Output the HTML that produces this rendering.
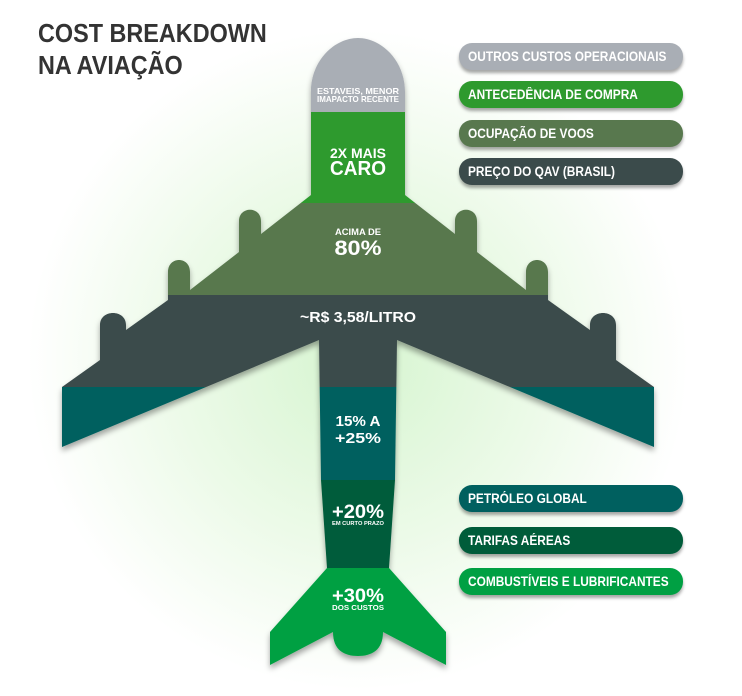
<!DOCTYPE html>
<html><head><meta charset="utf-8"><style>
html,body{margin:0;padding:0}
body{width:742px;height:696px;position:relative;overflow:hidden;background:#fff;font-family:"Liberation Sans",sans-serif}
.t{position:absolute;left:38px;font-weight:bold;color:#333;font-size:26px;white-space:nowrap;transform:scaleX(0.9);transform-origin:left top}
.pill{position:absolute;left:459px;width:224px;height:27px;border-radius:13px;color:#fff;font-weight:bold;font-size:13.5px;line-height:27px;padding-left:9px;box-sizing:border-box;box-shadow:0 3px 3px rgba(0,0,0,.35);white-space:nowrap;overflow:hidden}
.pill span{display:inline-block;transform:scaleX(0.88);transform-origin:left center}
svg{position:absolute;left:0;top:0}
</style></head><body>
<svg width="742" height="696" viewBox="0 0 742 696">
<defs>
<radialGradient id="g" cx="358" cy="360" r="330" gradientUnits="userSpaceOnUse">
<stop offset="0" stop-color="#d6f5d0"/><stop offset="0.55" stop-color="#ecfae8"/><stop offset="1" stop-color="#ffffff"/></radialGradient>
<filter id="sh" x="-10%" y="-10%" width="120%" height="120%"><feDropShadow dx="0" dy="4" stdDeviation="3" flood-color="#000" flood-opacity="0.35"/></filter>
<clipPath id="p"><path d="M311,112 L311,92 C311,60 335,38 358,38 C381,38 405,60 405,92 L405,195 L455,234 L455,221 C455,206 477,206 477,221 L477,252 L526,290 L526,272 C526,256 548,256 548,272 L548,300 L590,330 L590,325 C590,309 616,309 616,325 L616,360 L654,387 L654,447 L397,340 L395,480 L389,568 L446,632 L446,665 L383,632 C383,650 372,656 358,656 C344,656 333,650 333,632 L270,665 L270,632 L327,568 L321,480 L319,340 L62,447 L62,387 L100,360 L100,325 C100,309 126,309 126,325 L126,330 L168,300 L168,272 C168,256 190,256 190,272 L190,290 L239,252 L239,221 C239,206 261,206 261,221 L261,234 L311,195 Z"/></clipPath>
</defs>
<rect width="742" height="696" fill="url(#g)"/>
<g filter="url(#sh)"><g clip-path="url(#p)">
<rect x="0" y="0" width="742" height="112" fill="#a9aeb5"/>
<rect x="0" y="112" width="742" height="91" fill="#2e9a2e"/>
<rect x="0" y="203" width="742" height="92" fill="#58784e"/>
<rect x="0" y="295" width="742" height="92" fill="#3b4b4b"/>
<rect x="0" y="387" width="742" height="93" fill="#00605f"/>
<rect x="0" y="480" width="742" height="88" fill="#005c3a"/>
<rect x="0" y="568" width="742" height="128" fill="#00a043"/>
</g></g>
<g fill="#fff" font-weight="bold" text-anchor="middle" font-family="Liberation Sans, sans-serif">
<text x="358" y="94" font-size="8.5" textLength="82" lengthAdjust="spacingAndGlyphs">ESTAVEIS, MENOR</text>
<text x="358" y="102" font-size="8.5" textLength="82" lengthAdjust="spacingAndGlyphs">IMAPACTO RECENTE</text>
<text x="358" y="158" font-size="14" textLength="56" lengthAdjust="spacingAndGlyphs">2X MAIS</text>
<text x="358" y="175" font-size="20" textLength="56" lengthAdjust="spacingAndGlyphs">CARO</text>
<text x="358" y="235" font-size="9" textLength="46" lengthAdjust="spacingAndGlyphs">ACIMA DE</text>
<text x="358" y="255" font-size="21" textLength="47" lengthAdjust="spacingAndGlyphs">80%</text>
<text x="358" y="322" font-size="15" textLength="116" lengthAdjust="spacingAndGlyphs">~R$ 3,58/LITRO</text>
<text x="358" y="426" font-size="15" textLength="45" lengthAdjust="spacingAndGlyphs">15% A</text>
<text x="358" y="443" font-size="15" textLength="46" lengthAdjust="spacingAndGlyphs">+25%</text>
<text x="358" y="518" font-size="19" textLength="52" lengthAdjust="spacingAndGlyphs">+20%</text>
<text x="358" y="525" font-size="5.5" textLength="52" lengthAdjust="spacingAndGlyphs">EM CURTO PRAZO</text>
<text x="358" y="602" font-size="19" textLength="52" lengthAdjust="spacingAndGlyphs">+30%</text>
<text x="358" y="610" font-size="7" textLength="52" lengthAdjust="spacingAndGlyphs">DOS CUSTOS</text>
</g>
</svg>
<div class="t" style="top:18px">COST BREAKDOWN</div>
<div class="t" style="top:50px">NA AVIAÇÃO</div>
<div class="pill" style="top:43px;background:#a9aeb5"><span>OUTROS CUSTOS OPERACIONAIS</span></div>
<div class="pill" style="top:81px;background:#2e9a2e"><span>ANTECEDÊNCIA DE COMPRA</span></div>
<div class="pill" style="top:120px;background:#58784e"><span>OCUPAÇÃO DE VOOS</span></div>
<div class="pill" style="top:158px;background:#3b4b4b"><span>PREÇO DO QAV (BRASIL)</span></div>
<div class="pill" style="top:485px;background:#00605f"><span>PETRÓLEO GLOBAL</span></div>
<div class="pill" style="top:527px;background:#005c3a"><span>TARIFAS AÉREAS</span></div>
<div class="pill" style="top:568px;background:#00a043"><span>COMBUSTÍVEIS E LUBRIFICANTES</span></div>
</body></html>
